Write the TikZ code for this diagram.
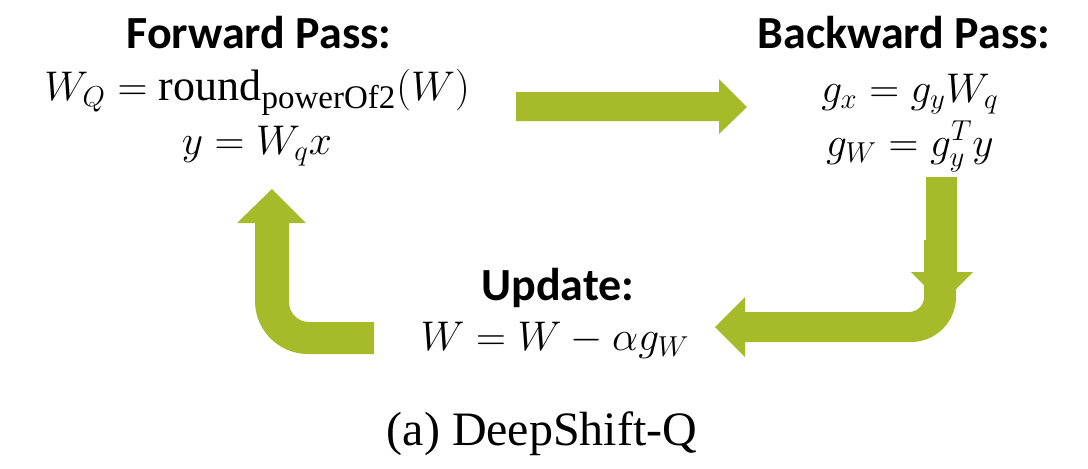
\documentclass[tikz,border=0pt]{standalone}
\usepackage{fontspec}
\setmainfont{Liberation Serif}
\newfontfamily\titlefont{Carlito}
\definecolor{arrowgreen}{RGB}{166,186,42}
\newcommand{\subtxt}[1]{\hbox{\fontsize{16.5}{19}\selectfont #1}}
\tikzset{
  title/.style={font=\titlefont\bfseries\fontsize{23}{27}\selectfont, anchor=base, inner sep=0pt},
  eq/.style={font=\fontsize{22}{27}\selectfont, align=center, anchor=base, inner sep=0pt},
  block/.style={fill=arrowgreen}
}
\begin{document}
\begin{tikzpicture}[x=0.5pt,y=-0.5pt]
  \useasboundingbox (0,0) rectangle (1088,468);
  % forward pass
  \node[title] (fwdtitle) at (259,48) {Forward Pass:};
  \node[eq] (fwdeq) at (257,154) {$W_Q=\mathrm{round}_{\subtxt{powerOf2}}(W)$\\ $y=W_qx$};
  % backward pass
  \node[title] (bwdtitle) at (904,48) {Backward Pass:};
  \node[eq] (bwdeq) at (910,156) {$g_x=g_yW_q$\\ $g_W=g_y^Ty$};
  % update
  \node[title] (updtitle) at (558,300) {Update:};
  \node[eq] (upd) at (555,350) {$W=W-\alpha g_W$};
  \node[anchor=base, inner sep=0pt, font=\fontsize{24}{28}\selectfont] (caption) at (542,445) {(a) DeepShift-Q};
  % arrows
  \begin{scope}[block]
    \fill (516,92) -- (719,92) -- (719,79) -- (747,107) -- (719,134)
      -- (719,121) -- (516,121) -- cycle;
    \fill (926,177) -- (957,177) -- (957,272) -- (973,272) -- (942,303)
      -- (911,272) -- (926,272) -- cycle;
    \fill (924,240) -- (924,297) arc[start angle=0, end angle=90, radius=15]
      -- (745,312) -- (745,297) -- (715,327) -- (745,357) -- (745,342)
      -- (911,342) arc[start angle=90, end angle=0, radius=45] -- (956,240) -- cycle;
    \fill (374,322) -- (309,322) arc[start angle=90, end angle=180, radius=20]
      -- (289,223) -- (306,223) -- (272,189) -- (237,223) -- (255,223)
      -- (255,301) arc[start angle=180, end angle=90, radius=53] -- (374,354) -- cycle;
  \end{scope}
\end{tikzpicture}
\end{document}
